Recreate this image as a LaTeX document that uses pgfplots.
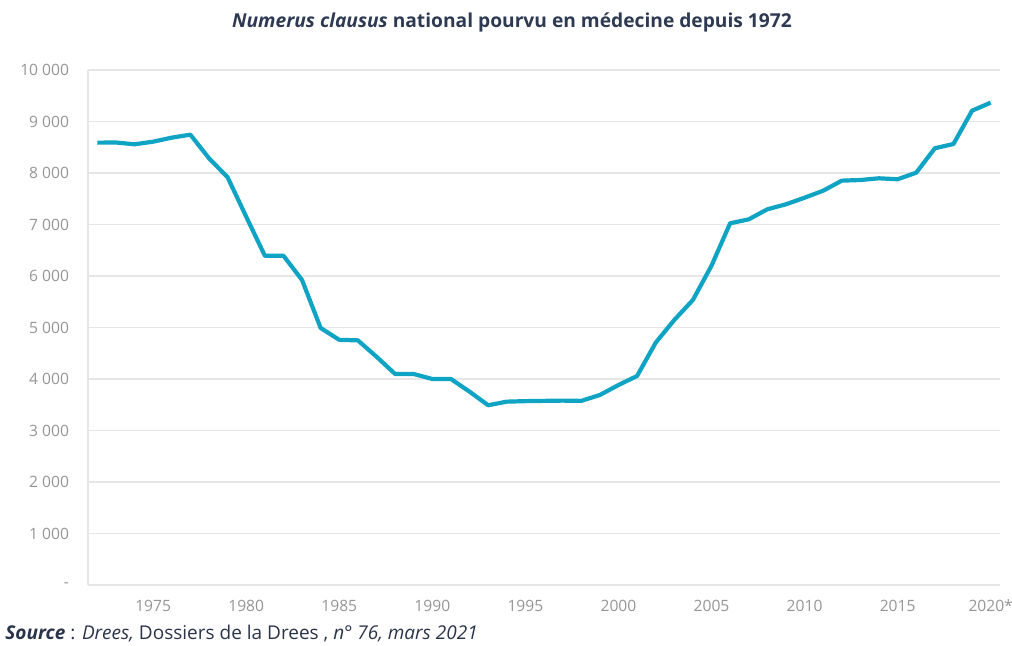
\documentclass[border=0pt]{standalone}
\usepackage{fontspec}
\setmainfont{Open Sans}
\usepackage{pgfplots}
\pgfplotsset{compat=1.18}
\definecolor{linecol}{HTML}{0FA3C4}
\definecolor{gridcol}{HTML}{E6E6E6}
\definecolor{tickcol}{HTML}{959595}
\definecolor{titlecol}{HTML}{2E3A52}
\begin{document}
\begin{tikzpicture}
\useasboundingbox (0,0) rectangle (506pt,323pt);
\begin{axis}[
  at={(44pt,30.5pt)}, anchor=origin,
  scale only axis, width=456pt, height=257.5pt,
  xmin=1971.5, xmax=2020.5, ymin=0, ymax=10000,
  scaled y ticks=false,
  axis x line*=bottom, axis y line*=left,
  axis line style={draw=gridcol, line width=0.8pt, -},
  ymajorgrids, grid style={draw=gridcol, line width=0.8pt},
  major tick length=0pt,
  xtick={1975,1980,1985,1990,1995,2000,2005,2010,2015,2020},
  xticklabels={1975,1980,1985,1990,1995,2000,2005,2010,2015,2020*},
  ytick={0,1000,...,10000},
  yticklabels={-,1 000,2 000,3 000,4 000,5 000,6 000,7 000,8 000,9 000,10 000},
  tick label style={font=\fontsize{7.8}{9}\selectfont, text=tickcol},
  xticklabel style={yshift=-4pt},
  yticklabel style={xshift=-6pt},
  clip=false,
]
\addplot[linecol, line width=2.1pt, line join=round] coordinates {
(1972,8589) (1973,8592) (1974,8557) (1975,8608) (1976,8686) (1977,8744)
(1978,8286) (1979,7917) (1980,7152) (1981,6394) (1982,6394) (1983,5922)
(1984,4990) (1985,4760) (1986,4750) (1987,4433) (1988,4097) (1989,4097)
(1990,4000) (1991,4000) (1992,3754) (1993,3490) (1994,3560) (1995,3570)
(1996,3575) (1997,3580) (1998,3575) (1999,3689) (2000,3883) (2001,4058)
(2002,4705) (2003,5146) (2004,5534) (2005,6200) (2006,7023) (2007,7100)
(2008,7295) (2009,7392) (2010,7520) (2011,7656) (2012,7851) (2013,7864)
(2014,7897) (2015,7878) (2016,8006) (2017,8480) (2018,8563) (2019,9210)
(2020,9365)
};
\end{axis}
\node[anchor=center, text=titlecol, font=\fontsize{9.6}{11}\selectfont\bfseries] at (256pt,312pt) {\textit{Numerus clausus} national pourvu en médecine depuis 1972};
\node[anchor=base west, inner sep=0pt, text=titlecol!90!black, font=\fontsize{9.5}{11}\selectfont] at (2.5pt,3pt) {\textbf{\textit{Source}} : \textit{Drees,} Dossiers de la Drees , \textit{n° 76, mars 2021}};
\end{tikzpicture}
\end{document}
